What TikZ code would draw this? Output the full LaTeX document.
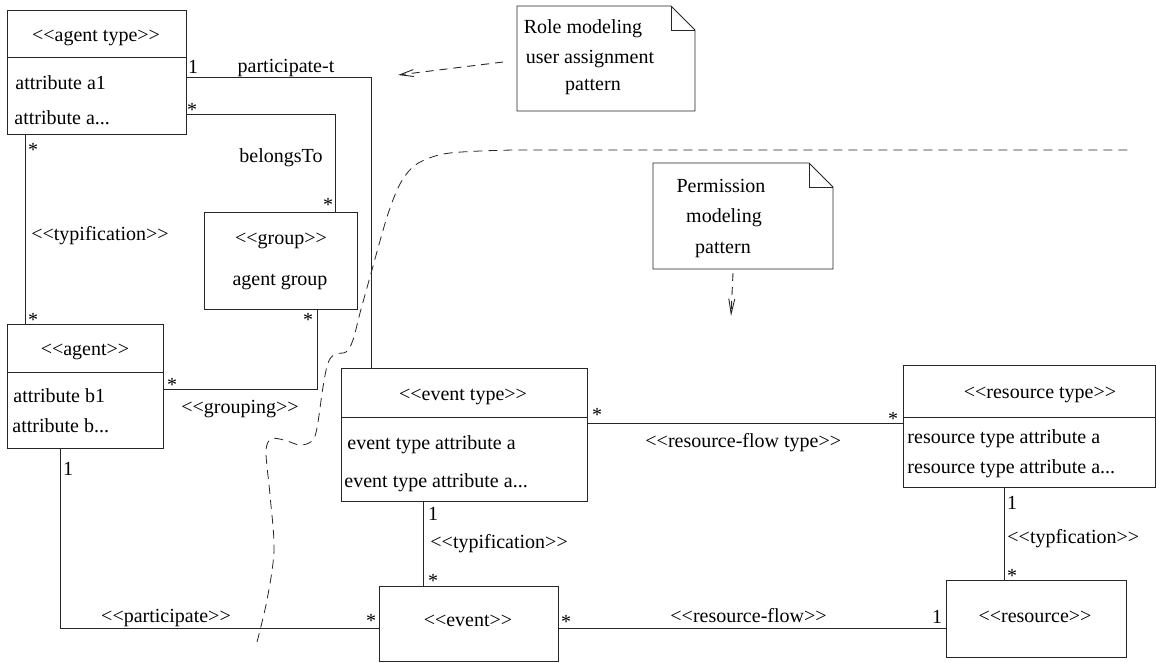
\documentclass[tikz,border=0pt]{standalone}
\usepackage{fontspec}
\setmainfont{Liberation Serif}[Ligatures=TeXOff]
\usetikzlibrary{arrows.meta,calc}
\newcommand\diagfont{\fontsize{20}{24}\selectfont}
\newcommand\stereo[1]{<\kern0pt<#1>\kern0pt>}

\begin{document}
\begin{tikzpicture}[x=1pt,y=-1pt,
  line width=0.9pt,
  ink/.style={draw=black!85},
  box/.style={ink, rectangle, inner sep=0pt, outer sep=0pt},
  frame/.style={rectangle, inner sep=0pt, outer sep=0pt},
  lbl/.style={inner sep=0pt, font=\diagfont},
  assoc/.style={ink},
  noteline/.style={ink, dash pattern=on 8pt off 6pt},
  sepline/.style={ink, line width=0.8pt, dash pattern=on 9pt off 6pt},
]
\useasboundingbox (0,0) rectangle (1156,662);
\fill[white] (0,0) rectangle (1156,662);

% ---------- class boxes ----------
\node[box, minimum width=179pt, minimum height=124pt] (agenttype) at (96.5,72) {};
\draw[ink] (agenttype.west |- 0,57) -- (agenttype.east |- 0,57);
\node[lbl, anchor=base] (agenttypeT) at (96,41) {\stereo{agent type}};
\node[lbl, anchor=base west] (agenttypeA1) at (15,89) {attribute a1};
\node[lbl, anchor=base west] (agenttypeA2) at (14,124) {attribute a...};

\node[box, minimum width=153pt, minimum height=97pt] (group) at (280.5,260.5) {};
\node[lbl, anchor=base] (groupT) at (281,244) {\stereo{group}};
\node[lbl, anchor=base] (groupN) at (280,285) {agent group};

\node[box, minimum width=156pt, minimum height=124pt] (agent) at (85,386) {};
\draw[ink] (agent.west |- 0,372) -- (agent.east |- 0,372);
\node[lbl, anchor=base] (agentT) at (85,355) {\stereo{agent}};
\node[lbl, anchor=base west] (agentB1) at (13,402) {attribute b1};
\node[lbl, anchor=base west] (agentB2) at (12,432) {attribute b...};

\node[box, minimum width=246pt, minimum height=133pt] (eventtype) at (464,434.5) {};
\draw[ink] (eventtype.west |- 0,417) -- (eventtype.east |- 0,417);
\node[lbl, anchor=base] (eventtypeT) at (463,400) {\stereo{event type}};
\node[lbl, anchor=base west] (eventtypeA1) at (347,449) {event type attribute a};
\node[lbl, anchor=base west] (eventtypeA2) at (344,487) {event type attribute a...};

\node[box, minimum width=179pt, minimum height=75pt] (event) at (468.5,623.5) {};
\node[lbl, anchor=base] (eventT) at (468,626) {\stereo{event}};

\node[box, minimum width=252pt, minimum height=122pt] (restype) at (1029,426) {};
\draw[ink] (restype.west |- 0,417) -- (restype.east |- 0,417);
\node[lbl, anchor=base] (restypeT) at (1040,398) {\stereo{resource type}};
\node[lbl, anchor=base west] (restypeA1) at (907,443) {resource type attribute a};
\node[lbl, anchor=base west] (restypeA2) at (907,473) {resource type attribute a...};

\node[box, minimum width=180pt, minimum height=77pt] (resource) at (1036,618.5) {};
\node[lbl, anchor=base] (resourceT) at (1035,622) {\stereo{resource}};

% ---------- associations ----------
\draw[assoc] (agenttype.east |- 0,77) -| (eventtype.north -| 371,0);
\node[lbl, anchor=base] (ptOne) at (193,73) {1};
\node[lbl, anchor=base] (ptName) at (286,72) {participate-t};

\draw[assoc] (agenttype.east |- 0,114) -| (group.north -| 335,0);
\node[lbl, anchor=base] (btStarA) at (192,116) {*};
\node[lbl, anchor=base] (btName) at (281,162) {belongsTo};
\node[lbl, anchor=base] (btStarB) at (328,211) {*};

\draw[assoc] (agenttype.south -| 25,0) -- (agent.north -| 25,0);
\node[lbl, anchor=base] (tyStarA) at (33,156) {*};
\node[lbl, anchor=base] (tyName) at (100,240) {\stereo{typification}};
\node[lbl, anchor=base] (tyStarB) at (33,326) {*};

\draw[assoc] (agent.east |- 0,389) -| (group.south -| 317,0);
\node[lbl, anchor=base] (grStarA) at (172,391) {*};
\node[lbl, anchor=base] (grStarB) at (308,326) {*};
\node[lbl, anchor=base] (grName) at (240,413) {\stereo{grouping}};

\draw[assoc] (agent.south -| 60,0) |- (event.west |- 0,628);
\node[lbl, anchor=base] (paOne) at (68,475) {1};
\node[lbl, anchor=base] (paName) at (166,622) {\stereo{participate}};
\node[lbl, anchor=base] (paStar) at (371,627) {*};

\draw[assoc] (eventtype.east |- 0,423) -- (restype.west |- 0,423);
\node[lbl, anchor=base] (rftStarA) at (597,421) {*};
\node[lbl, anchor=base west] (rftName) at (645,447) {\stereo{resource-flow type}};
\node[lbl, anchor=base] (rftStarB) at (893,425) {*};

\draw[assoc] (eventtype.south -| 423,0) -- (event.north -| 423,0);
\node[lbl, anchor=base] (etOne) at (433,520) {1};
\node[lbl, anchor=base west] (etName) at (430,548) {\stereo{typification}};
\node[lbl, anchor=base] (etStar) at (433,587) {*};

\draw[assoc] (restype.south -| 1004,0) -- (resource.north -| 1004,0);
\node[lbl, anchor=base] (rtOne) at (1012,509) {1};
\node[lbl, anchor=base west] (rtName) at (1007,543) {\stereo{typfication}};
\node[lbl, anchor=base] (rtStar) at (1012,582) {*};

\draw[assoc] (event.east |- 0,628) -- (resource.west |- 0,628);
\node[lbl, anchor=base] (rfStar) at (566,628) {*};
\node[lbl, anchor=base west] (rfName) at (670,622) {\stereo{resource-flow}};
\node[lbl, anchor=base] (rfOne) at (937,623) {1};

% ---------- notes ----------
\node[frame, minimum width=178pt, minimum height=105pt] (rolenote) at (606,58.5) {};
\draw[ink] (rolenote.north west) -- ($(rolenote.north east)+(-24,0)$)
  -- ($(rolenote.north east)+(0,24)$) -- (rolenote.south east)
  -- (rolenote.south west) -- cycle;
\draw[ink] ($(rolenote.north east)+(-24,0)$) -- ($(rolenote.north east)+(-24,24)$)
  -- ($(rolenote.north east)+(0,24)$);
\node[lbl, anchor=base] (roleL1) at (583,33) {Role modeling};
\node[lbl, anchor=base] (roleL2) at (590,63) {user assignment};
\node[lbl, anchor=base] (roleL3) at (593,90) {pattern};

\node[frame, minimum width=180pt, minimum height=106pt] (permnote) at (743,216) {};
\draw[ink] (permnote.north west) -- ($(permnote.north east)+(-24,0)$)
  -- ($(permnote.north east)+(0,24)$) -- (permnote.south east)
  -- (permnote.south west) -- cycle;
\draw[ink] ($(permnote.north east)+(-24,0)$) -- ($(permnote.north east)+(-24,24)$)
  -- ($(permnote.north east)+(0,24)$);
\node[lbl, anchor=base] (permL1) at (721,192) {Permission};
\node[lbl, anchor=base] (permL2) at (724,222) {modeling};
\node[lbl, anchor=base] (permL3) at (723,253) {pattern};

% note pointers
\coordinate (roleTail) at (503,62);
\coordinate (roleHead) at (398,75);
\draw[noteline, -{Straight Barb[length=14pt,width=7pt]}] (roleTail) -- (roleHead);
\coordinate (permTail) at (733,273);
\coordinate (permHead) at (731,316);
\draw[noteline, -{Straight Barb[length=15pt,width=6pt]}] (permTail) -- (permHead);

% ---------- separator between the two patterns ----------
\draw[sepline] plot[smooth, tension=0.55] coordinates {
  (257,642) (267,600) (274,550) (270,495) (266,452) (271,439) (284,440)
  (300,445) (312,441) (317,428) (323,387) (328,363) (335,354) (346,352)
  (353,340) (360,313) (370,277) (387,217) (400,184) (414,166) (432,157)
  (450,153) (480,151) (513,150)} -- (1133,150);
\end{tikzpicture}
\end{document}
